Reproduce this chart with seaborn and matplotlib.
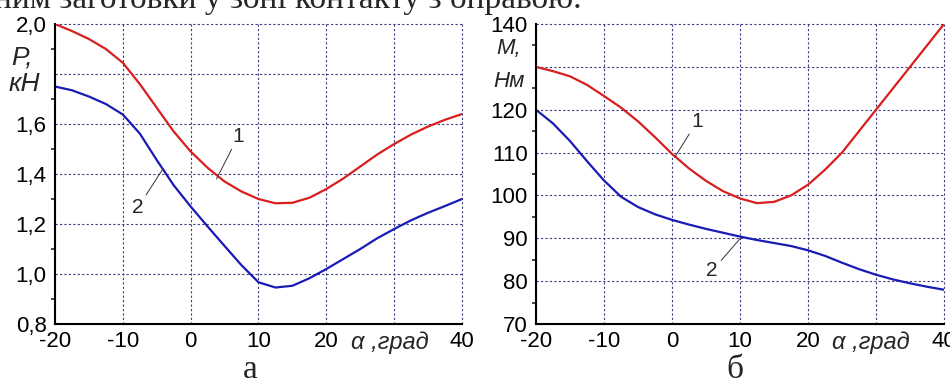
import numpy as np
import pandas as pd
import seaborn as sns
import matplotlib.pyplot as plt
from matplotlib.ticker import MultipleLocator

# angle, degrees
alpha = [-20, -17.5, -15, -12.5, -10, -7.5, -5, -2.5, 0, 2.5, 5, 7.5, 10,
         12.5, 15, 17.5, 20, 22.5, 25, 27.5, 30, 32.5, 35, 37.5, 40]

# panel a: force P, kN
p_1 = [2.00, 1.972, 1.94, 1.90, 1.845, 1.76, 1.665, 1.57, 1.49, 1.425, 1.37, 1.33, 1.30,
       1.283, 1.285, 1.305, 1.34, 1.382, 1.43, 1.478, 1.52, 1.558, 1.59, 1.617, 1.64]
p_2 = [1.75, 1.735, 1.71, 1.68, 1.638, 1.562, 1.456, 1.355, 1.27, 1.19, 1.112, 1.035, 0.967,
       0.946, 0.953, 0.983, 1.02, 1.06, 1.10, 1.143, 1.18, 1.215, 1.245, 1.272, 1.30]

# panel b: moment M, Nm
m_1 = [130, 129, 127.8, 125.8, 123.2, 120.5, 117.3, 113.6, 109.7, 106.3, 103.4, 101, 99.3,
       98.2, 98.5, 100, 102.5, 106, 110, 115, 120, 125, 130, 135, 140]
m_2 = [120, 116.8, 112.7, 108, 103.5, 99.7, 97.3, 95.6, 94.3, 93.2, 92.2, 91.3, 90.4,
       89.6, 88.9, 88.2, 87.2, 85.9, 84.3, 82.8, 81.5, 80.4, 79.5, 78.7, 78]

p_ticks = [0.8, 1.0, 1.2, 1.4, 1.6, 1.8, 2.0]
p_labels = ['0,8', '1,0', '1,2', '1,4', '1,6', '', '2,0']
m_ticks = [70, 80, 90, 100, 110, 120, 130, 140]
m_labels = ['70', '80', '90', '100', '110', '120', '', '140']
x_ticks = [-20, -10, 0, 10, 20, 30, 40]
x_labels = ['-20', '-10', '0', '10', '20', '', '40']

colors = {'1': '#d81e1e', '2': '#1a1ab4'}

sns.set_style("white")
plt.rcParams['font.family'] = ['Liberation Sans', 'DejaVu Sans']

n = len(alpha)
df_p = pd.DataFrame({'alpha': alpha * 2, 'val': p_1 + p_2, 'curve': ['1'] * n + ['2'] * n})
df_m = pd.DataFrame({'alpha': alpha * 2, 'val': m_1 + m_2, 'curve': ['1'] * n + ['2'] * n})

fig = plt.figure(figsize=(9.5, 3.85), dpi=100)
ax_a = fig.add_axes([0.0579, 0.1584, 0.4284, 0.7792])
ax_b = fig.add_axes([0.5642, 0.1584, 0.4295, 0.7792])


def style(ax, ylim, yt, ylab, yminor):
    ax.set_xlim(-20, 40)
    ax.set_ylim(*ylim)
    ax.set_xticks(x_ticks)
    ax.set_xticklabels(x_labels)
    ax.set_yticks(yt)
    ax.set_yticklabels(ylab)
    ax.yaxis.set_minor_locator(MultipleLocator(yminor))
    ax.set_axisbelow(True)
    ax.grid(True, which='major', color='#3c3c84', linestyle=(0, (2, 2)), linewidth=0.8)
    for gl in ax.get_xgridlines() + ax.get_ygridlines():
        gl.set_clip_on(False)
    ax.spines['top'].set_visible(False)
    ax.spines['right'].set_visible(False)
    for s in ['left', 'bottom']:
        ax.spines[s].set_linewidth(1.5)
        ax.spines[s].set_color('black')
    ax.tick_params(axis='both', which='major', direction='out', length=4, width=1.3,
                   labelsize=16, pad=2, colors='black')
    ax.tick_params(axis='y', which='minor', direction='out', length=3, width=1.2, left=True)
    ax.tick_params(axis='x', which='major', length=3)
    ax.set_xlabel('')
    ax.set_ylabel('')
    ax.text(29.3, -0.022, 'α ,град', transform=ax.get_xaxis_transform(), ha='center',
            va='top', fontsize=17, fontstyle='italic')


sns.lineplot(data=df_p, x='alpha', y='val', hue='curve', palette=colors, linewidth=1.6,
             estimator=None, legend=False, ax=ax_a)
sns.lineplot(data=df_m, x='alpha', y='val', hue='curve', palette=colors, linewidth=1.6,
             estimator=None, legend=False, ax=ax_b)

style(ax_a, (0.8, 2.0), p_ticks, p_labels, 0.1)
style(ax_b, (70, 140), m_ticks, m_labels, 5)

# axis names
ax_a.text(-0.081, 0.89, 'P,', transform=ax_a.transAxes, ha='center', va='center',
          fontsize=19, fontstyle='italic')
ax_a.text(-0.076, 0.8, 'кН', transform=ax_a.transAxes, ha='center', va='center',
          fontsize=19, fontstyle='italic')
ax_b.text(-0.068, 0.92, 'M,', transform=ax_b.transAxes, ha='center', va='center',
          fontsize=16, fontstyle='italic')
ax_b.text(-0.067, 0.81, 'Нм', transform=ax_b.transAxes, ha='center', va='center',
          fontsize=16, fontstyle='italic')

# curve numbers with leader lines
lead = dict(arrowstyle='-', color='#333333', lw=0.7, shrinkA=0, shrinkB=0)
ax_a.annotate('1', xy=(3.8, 1.38), xytext=(7.0, 1.55), ha='center', va='center',
              fontsize=15, arrowprops=lead)
ax_a.annotate('2', xy=(-4.1, 1.42), xytext=(-7.8, 1.265), ha='center', va='center',
              fontsize=15, arrowprops=lead)
ax_b.annotate('1', xy=(0.4, 108.9), xytext=(3.7, 117.3), ha='center', va='center',
              fontsize=15, arrowprops=lead)
ax_b.annotate('2', xy=(10, 89.9), xytext=(5.9, 82.4), ha='center', va='center',
              fontsize=15, arrowprops=lead)

# panel captions and the clipped line of text above
fig.text(250 / 950, 0.0, 'а', ha='center', va='bottom', fontsize=24,
         family='Liberation Serif')
fig.text(735 / 950, 0.0, 'б', ha='center', va='bottom', fontsize=24,
         family='Liberation Serif')
fig.text(-0.006, 1 - 8 / 385, 'ним заготовки у зоні контакту з оправою.', ha='left',
         va='baseline', fontsize=24, family='Liberation Serif')

fig.savefig('out.png', dpi=100)
